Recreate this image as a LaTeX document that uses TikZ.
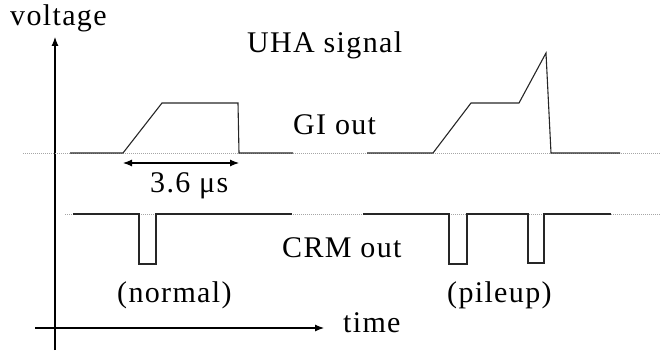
\documentclass[tikz,border=0pt]{standalone}
\usepackage{fontspec}
\setmainfont[LetterSpace=4.5]{Liberation Serif}
\usetikzlibrary{arrows.meta}
\begin{document}
\begin{tikzpicture}[x=1pt,y=-1pt,
  lbl/.style={inner sep=0pt,anchor=base west,font=\fontsize{30}{34}\selectfont},
  wave/.style={line width=1.1pt,black!85,line join=miter},
  guide/.style={gray!70,line width=0.8pt,dash pattern=on 1pt off 1pt},
  axis/.style={line width=1.1pt,-{Latex[length=9pt,width=7pt]}}]
\useasboundingbox (0,0) rectangle (660,352);

% axes
\coordinate (yfoot) at (55,350);
\coordinate (ytip) at (55,37);
\coordinate (xfoot) at (35,328);
\coordinate (xtip) at (324,328);
\draw[axis] (yfoot) -- (ytip);
\draw[axis] (xfoot) -- (xtip);

% dotted reference levels
\coordinate (giL) at (23,153);
\coordinate (giR) at (660,153);
\coordinate (crmL) at (65,214);
\coordinate (crmR) at (660,214);
\draw[guide] (giL) -- (giR);
\draw[guide] (crmL) -- (crmR);

% gated integrator output, single pulse
\draw[wave] (70,153) -- (123,153) -- (162,103) -- (238,103) -- (239,153) -- (293,153);
% gated integrator output, pileup
\draw[wave] (367,153) -- (433,153) -- (471,103) -- (519,103) -- (546,53) -- (551,153) -- (620,153);

% pulse width marker
\coordinate (wL) at (123,163);
\coordinate (wR) at (239,163);
\draw[line width=1.1pt,{Latex[length=9pt,width=7pt]}-{Latex[length=9pt,width=7pt]}] (wL) -- (wR);

% CRM output, single pulse
\draw[wave] (73,214) -- (139,214) -- (139,264) -- (156,264) -- (156,214) -- (292,214);
% CRM output, pileup
\draw[wave] (363,214) -- (449,214) -- (449,264) -- (467,264) -- (467,214) -- (528,214)
  -- (528,263) -- (544,263) -- (544,214) -- (611,214);

% labels
\node[lbl] (volt) at (10,26) {voltage};
\node[lbl] (uha) at (247,53) {UHA signal};
\node[lbl] (gi) at (293,135) {GI out};
\node[lbl] (width) at (150,193) {3.6 μs};
\node[lbl] (crm) at (282,258) {CRM out};
\node[lbl] (normal) at (117,302) {(normal)};
\node[lbl] (pileup) at (447,302) {(pileup)};
\node[lbl] (time) at (343,332) {time};
\end{tikzpicture}
\end{document}
